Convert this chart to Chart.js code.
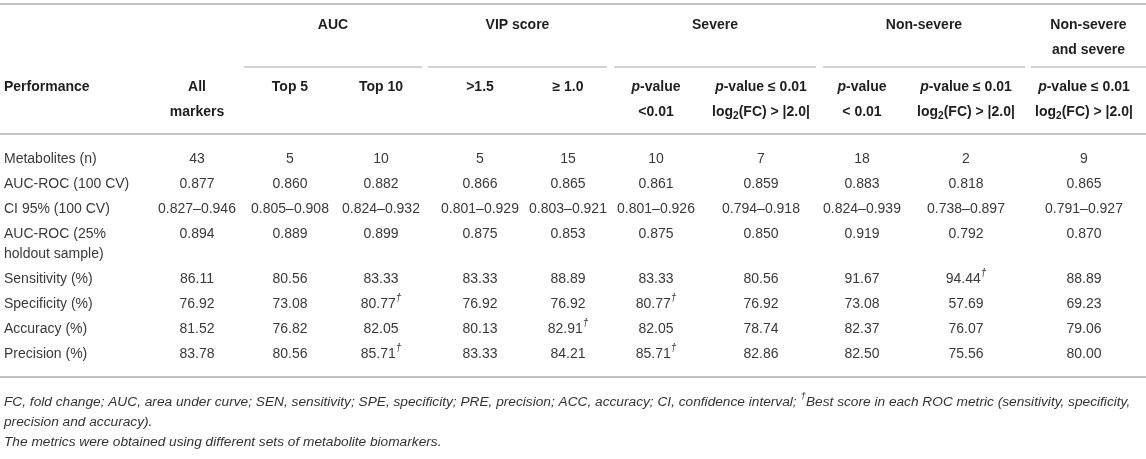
<!DOCTYPE html>
<html>
<head>
<meta charset="utf-8">
<script src="https://cdn.jsdelivr.net/npm/chart.js@4.4.1/dist/chart.umd.min.js"></script>
<style>
  html, body { margin: 0; padding: 0; background: #fff; }
  #wrap { width: 1146px; height: 459px; }
</style>
</head>
<body>
<div id="wrap"><canvas id="myChart"></canvas></div>
<script>
// row labels (categories)
const categories = ['Metabolites (n)', 'AUC-ROC (100 CV)', 'CI 95% (100 CV)', 'AUC-ROC (25%|holdout sample)',
  'Sensitivity (%)', 'Specificity (%)', 'Accuracy (%)', 'Precision (%)'];

// column values, ^†^ marks the best score
const allMarkers   = ['43', '0.877', '0.827–0.946', '0.894', '86.11', '76.92', '81.52', '83.78'];
const aucTop5      = ['5', '0.860', '0.805–0.908', '0.889', '80.56', '73.08', '76.82', '80.56'];
const aucTop10     = ['10', '0.882', '0.824–0.932', '0.899', '83.33', '80.77^†^', '82.05', '85.71^†^'];
const vip15        = ['5', '0.866', '0.801–0.929', '0.875', '83.33', '76.92', '80.13', '83.33'];
const vip10        = ['15', '0.865', '0.803–0.921', '0.853', '88.89', '76.92', '82.91^†^', '84.21'];
const severeP      = ['10', '0.861', '0.801–0.926', '0.875', '83.33', '80.77^†^', '82.05', '85.71^†^'];
const severePFC    = ['7', '0.859', '0.794–0.918', '0.850', '80.56', '76.92', '78.74', '82.86'];
const nonSevereP   = ['18', '0.883', '0.824–0.939', '0.919', '91.67', '73.08', '82.37', '82.50'];
const nonSeverePFC = ['2', '0.818', '0.738–0.897', '0.792', '94.44^†^', '57.69', '76.07', '75.56'];
const bothPFC      = ['9', '0.865', '0.791–0.927', '0.870', '88.89', '69.23', '79.06', '80.00'];
const columns = [allMarkers, aucTop5, aucTop10, vip15, vip10, severeP, severePFC, nonSevereP, nonSeverePFC, bothPFC];

// header labels (| = line break, *x* italic, ~x~ subscript)
const colHeaders = ['All|markers', 'Top 5', 'Top 10', '>1.5', '≥ 1.0', '*p*-value|<0.01',
  '*p*-value ≤ 0.01|log~2~(FC) > |2.0|', '*p*-value|< 0.01', '*p*-value ≤ 0.01|log~2~(FC) > |2.0|',
  '*p*-value ≤ 0.01|log~2~(FC) > |2.0|'];
const groupHeaders = ['AUC', 'VIP score', 'Severe', 'Non-severe', 'Non-severe|and severe'];
const footnotes = [
  'FC, fold change; AUC, area under curve; SEN, sensitivity; SPE, specificity; PRE, precision; ACC, accuracy; CI, confidence interval; ^†^Best score in each ROC metric (sensitivity, specificity,',
  'precision and accuracy).',
  'The metrics were obtained using different sets of metabolite biomarkers.'
];

// layout in table units
const labelX = 4;
const colX = [197, 290, 381, 480, 568, 656, 761, 862, 966, 1084];
const groupSpans = [[244, 422], [428, 607], [614, 816], [823, 1025], [1031, 1146]];
const rowY = [159, 184, 209, 234, 279, 304, 329, 354];
const headGap = 25;
const labelGap = 20;
const layoutY = { top: 4, group: 25, groupLine: 67, head: 87, headRule: 134, bottomRule: 377, foot: 402, footGap: 20 };

const FAMILY = '"Liberation Sans", Arial, Helvetica, sans-serif';

function parseRich(str) {
  const parts = str.split(/(\*[^*]+\*|~[^~]+~|\^[^^]+\^)/).filter(s => s.length);
  return parts.map(p => {
    if (p[0] === '*') return { t: p.slice(1, -1), italic: true };
    if (p[0] === '~') return { t: p.slice(1, -1), sub: true };
    if (p[0] === '^') return { t: p.slice(1, -1), sup: true, italic: true };
    return { t: p };
  });
}

function drawRich(ctx, str, x, y, align, opt) {
  const segs = parseRich(str);
  const size = opt.size;
  const fontOf = s => {
    const sz = (s.sub || s.sup) ? size * 0.72 : size;
    const st = (s.italic || opt.italic) ? 'italic' : 'normal';
    return st + ' ' + (opt.bold ? 'bold' : 'normal') + ' ' + sz + 'px ' + FAMILY;
  };
  let total = 0;
  segs.forEach(s => { ctx.font = fontOf(s); s.w = ctx.measureText(s.t).width; total += s.w; });
  let cx = align === 'left' ? x : (align === 'right' ? x - total : x - total / 2);
  ctx.textAlign = 'left';
  ctx.textBaseline = 'middle';
  ctx.fillStyle = opt.color;
  segs.forEach(s => {
    ctx.font = fontOf(s);
    let dy = 0;
    if (s.sub) dy = size * 0.3;
    if (s.sup) dy = -size * 0.42;
    ctx.fillText(s.t, cx, y + dy);
    cx += s.w;
  });
}

function drawLines(ctx, str, x, y, align, opt, gap) {
  // split on | but keep "|2.0|" intact
  const lines = str.split(/\|(?=[^0-9])/);
  lines.forEach((ln, i) => drawRich(ctx, ln, x, y + i * gap, align, opt));
}

const tablePlugin = {
  id: 'tablePlugin',
  afterDatasetsDraw(chart) {
    const ctx = chart.ctx;
    const xs = chart.scales.x, ys = chart.scales.y;
    const px = v => xs.getPixelForValue(v), py = v => ys.getPixelForValue(v);
    ctx.save();

    // rules
    ctx.strokeStyle = '#c3c3c3';
    ctx.lineWidth = 2;
    [layoutY.top, layoutY.headRule, layoutY.bottomRule].forEach(v => {
      ctx.beginPath(); ctx.moveTo(px(0), py(v)); ctx.lineTo(px(1146), py(v)); ctx.stroke();
    });
    ctx.lineWidth = 1.6;
    groupSpans.forEach(s => {
      ctx.beginPath(); ctx.moveTo(px(s[0]), py(layoutY.groupLine)); ctx.lineTo(px(s[1]), py(layoutY.groupLine)); ctx.stroke();
    });

    const head = { size: 14, bold: true, color: '#1e1e1e' };
    groupHeaders.forEach((g, i) => {
      const cx = (groupSpans[i][0] + groupSpans[i][1]) / 2;
      drawLines(ctx, g, px(cx), py(layoutY.group), 'center', head, headGap);
    });
    drawRich(ctx, 'Performance', px(labelX), py(layoutY.head), 'left', head);
    colHeaders.forEach((h, i) => drawLines(ctx, h, px(colX[i]), py(layoutY.head), 'center', head, headGap));

    // cells: every point of every dataset
    const body = { size: 14, color: '#3a3a3a' };
    chart.data.datasets.forEach((ds, di) => {
      const meta = chart.getDatasetMeta(di);
      meta.data.forEach((el, i) => {
        const v = ds.data[i].v;
        if (ds.isLabel) drawLines(ctx, v, el.x, el.y, 'left', body, labelGap);
        else drawRich(ctx, v, el.x, el.y, 'center', body);
      });
    });

    const foot = { size: 13.7, italic: true, color: '#333' };
    footnotes.forEach((f, i) => drawRich(ctx, f, px(labelX), py(layoutY.foot + i * layoutY.footGap), 'left', foot));
    ctx.restore();
  }
};

const datasets = [{
  label: 'Performance',
  isLabel: true,
  data: categories.map((c, i) => ({ x: labelX, y: rowY[i], v: c })),
  pointRadius: 0
}].concat(columns.map((col, c) => ({
  label: colHeaders[c],
  data: col.map((v, i) => ({ x: colX[c], y: rowY[i], v: v })),
  pointRadius: 0
})));

new Chart(document.getElementById('myChart').getContext('2d'), {
  type: 'scatter',
  data: { datasets: datasets },
  options: {
    responsive: true,
    maintainAspectRatio: false,
    animation: false,
    layout: { padding: 0 },
    plugins: { legend: { display: false }, tooltip: { enabled: false } },
    scales: {
      x: { type: 'linear', min: 0, max: 1146, display: false },
      y: { type: 'linear', min: 0, max: 459, reverse: true, display: false }
    }
  },
  plugins: [tablePlugin]
});
</script>
</body>
</html>
